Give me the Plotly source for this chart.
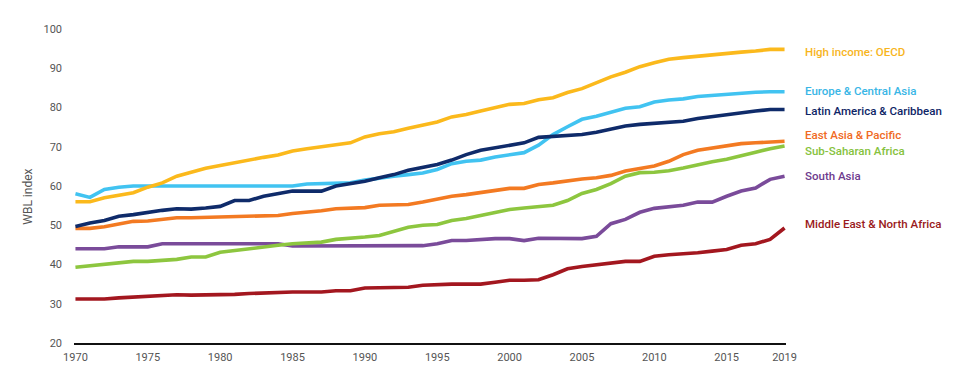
import plotly.graph_objects as go

years = list(range(1970, 2020))

high_income_oecd = [56.0, 56.0, 57.0, 57.7, 58.3, 59.7, 60.8, 62.5, 63.6, 64.5,
                    65.2, 65.9, 66.8, 67.3, 67.9, 68.9, 69.5, 69.9, 70.5, 71.0,
                    72.5, 73.3, 73.8, 74.7, 75.4, 76.3, 77.6, 78.2, 79.1, 80.0,
                    80.8, 81.0, 82.0, 82.5, 83.8, 84.8, 86.3, 87.8, 89.0, 90.4,
                    91.4, 92.3, 92.7, 93.1, 93.5, 93.8, 94.1, 94.4, 94.8, 94.8]
europe_central_asia = [58.0, 57.1, 59.1, 59.7, 60.0, 60.0, 60.0, 60.0, 60.0, 60.0,
                       59.8, 60.0, 60.0, 60.0, 60.0, 60.0, 60.5, 60.6, 60.6, 60.8,
                       61.5, 62.1, 62.5, 62.9, 63.3, 64.2, 65.7, 66.3, 66.6, 67.4,
                       68.0, 68.5, 70.4, 73.1, 75.1, 77.0, 77.8, 78.8, 79.8, 80.2,
                       81.4, 81.9, 82.2, 82.8, 83.1, 83.3, 83.6, 83.9, 84.0, 84.0]
latin_america_caribbean = [49.7, 50.6, 51.2, 52.3, 52.7, 53.3, 53.8, 54.2, 54.1, 54.4,
                           54.8, 56.3, 56.3, 57.4, 58.0, 58.7, 58.7, 58.7, 60.0, 60.6,
                           61.2, 62.1, 62.9, 64.0, 64.7, 65.5, 66.6, 68.0, 69.1, 69.7,
                           70.3, 71.0, 72.4, 72.7, 72.9, 73.1, 73.7, 74.4, 75.3, 75.7,
                           75.9, 76.1, 76.5, 77.2, 77.7, 78.2, 78.8, 79.1, 79.5, 79.5]
east_asia_pacific = [49.2, 49.2, 49.6, 50.4, 51.0, 51.1, 51.5, 51.9, 51.9, 52.0,
                     52.1, 52.3, 52.3, 52.5, 52.5, 53.0, 53.3, 53.7, 54.2, 54.4,
                     54.5, 55.1, 55.2, 55.3, 55.9, 56.7, 57.4, 57.8, 58.3, 58.9,
                     59.4, 59.4, 60.4, 60.8, 61.4, 61.8, 62.1, 62.7, 63.8, 64.4,
                     65.1, 66.3, 68.0, 69.1, 69.7, 70.3, 70.8, 71.0, 71.2, 71.4]
sub_saharan_africa = [39.3, 39.7, 40.0, 40.6, 40.8, 40.8, 41.1, 41.3, 41.9, 41.9,
                      43.1, 43.6, 44.1, 44.5, 44.9, 45.3, 45.6, 45.7, 46.4, 46.6,
                      47.0, 47.4, 48.5, 49.5, 50.0, 50.2, 51.2, 51.7, 52.5, 53.3,
                      54.0, 54.4, 54.8, 55.1, 56.3, 58.1, 59.1, 60.6, 62.5, 63.4,
                      63.5, 63.9, 64.6, 65.5, 66.2, 66.8, 67.6, 68.6, 69.5, 70.2]
south_asia = [44.0, 44.0, 44.0, 44.5, 44.5, 44.5, 45.3, 45.3, 45.3, 45.3,
              45.3, 45.3, 45.3, 45.3, 45.3, 44.7, 44.7, 44.7, 44.7, 44.7,
              44.7, 44.7, 44.7, 44.7, 44.8, 45.3, 46.1, 46.1, 46.4, 46.6,
              46.6, 46.1, 46.7, 46.6, 46.6, 46.6, 47.2, 50.4, 51.5, 53.3,
              54.3, 54.7, 55.1, 55.9, 55.9, 57.4, 58.7, 59.5, 61.7, 62.5]
middle_east_north_africa = [31.2, 31.2, 31.2, 31.5, 31.7, 31.7, 31.9, 32.3, 32.2, 32.2,
                            32.2, 32.4, 32.6, 32.8, 32.9, 33.0, 33.0, 33.0, 33.3, 33.3,
                            34.0, 34.0, 34.2, 34.2, 34.7, 34.9, 35.0, 35.0, 35.0, 35.5,
                            36.0, 36.0, 36.1, 37.4, 38.9, 39.5, 40.0, 40.4, 40.8, 40.8,
                            42.1, 42.5, 42.7, 43.0, 43.4, 43.8, 44.9, 45.3, 46.4, 49.3]

series_names = ["High income: OECD", "Europe & Central Asia", "Latin America & Caribbean",
                "East Asia & Pacific", "Sub-Saharan Africa", "South Asia",
                "Middle East & North Africa"]
series_values = [high_income_oecd, europe_central_asia, latin_america_caribbean,
                 east_asia_pacific, sub_saharan_africa, south_asia, middle_east_north_africa]

x_tick_vals = [1970, 1975, 1980, 1985, 1990, 1995, 2000, 2005, 2010, 2015, 2019]
y_tick_vals = [20, 30, 40, 50, 60, 70, 80, 90, 100]

# styling (not data)
line_colors = ["#FBB91C", "#41C3F1", "#0F2B6A", "#F37A22", "#8DC63F", "#7A4B9A", "#A3171F"]
text_colors = ["#F7B51D", "#39B6E6", "#0E2566", "#F06A24", "#86C23D", "#6E3B8E", "#9A1A20"]
label_y_paper = [0.927, 0.802, 0.739, 0.661, 0.612, 0.531, 0.378]
draw_order = [6, 5, 4, 3, 1, 2, 0]

FONT = "Roboto, sans-serif"

fig = go.Figure()
for i in draw_order:
    fig.add_trace(go.Scatter(x=years, y=series_values[i], mode="lines", name=series_names[i],
                             line=dict(color=line_colors[i], width=3.6), showlegend=False,
                             hoverinfo="x+y+name"))

for name, col, ly in zip(series_names, text_colors, label_y_paper):
    fig.add_annotation(text=name, xref="paper", yref="paper",
                       x=1.0245, y=ly, xanchor="left", yanchor="middle", showarrow=False,
                       font=dict(family=FONT, size=11.5, color=col, weight=500))

fig.add_annotation(text="WBL index", xref="paper", yref="paper", x=-0.065, y=0.465,
                   textangle=-90, showarrow=False, xanchor="center", yanchor="middle",
                   font=dict(family=FONT, size=12, color="#555555"))

# the page body adds an 8px offset, so the figure is 8px smaller and margins shifted
fig.update_layout(
    width=946, height=370,
    margin=dict(l=66, r=168, t=21, b=35),
    paper_bgcolor="white", plot_bgcolor="white",
    font=dict(family=FONT, size=11, color="#555555"),
    xaxis=dict(range=[1969.9, 2019.1], tickvals=x_tick_vals, ticktext=[str(v) for v in x_tick_vals],
               showgrid=False, zeroline=False, showline=True, linecolor="#111111", linewidth=1.6,
               ticks="", ticklabelstandoff=3, tickfont=dict(family=FONT, size=11, color="#555555")),
    yaxis=dict(range=[20, 100], tickvals=y_tick_vals, showgrid=False, zeroline=False,
               showline=False, ticks="", ticklabelstandoff=11,
               tickfont=dict(family=FONT, size=11, color="#555555")),
)

fig.write_html("out.html")
